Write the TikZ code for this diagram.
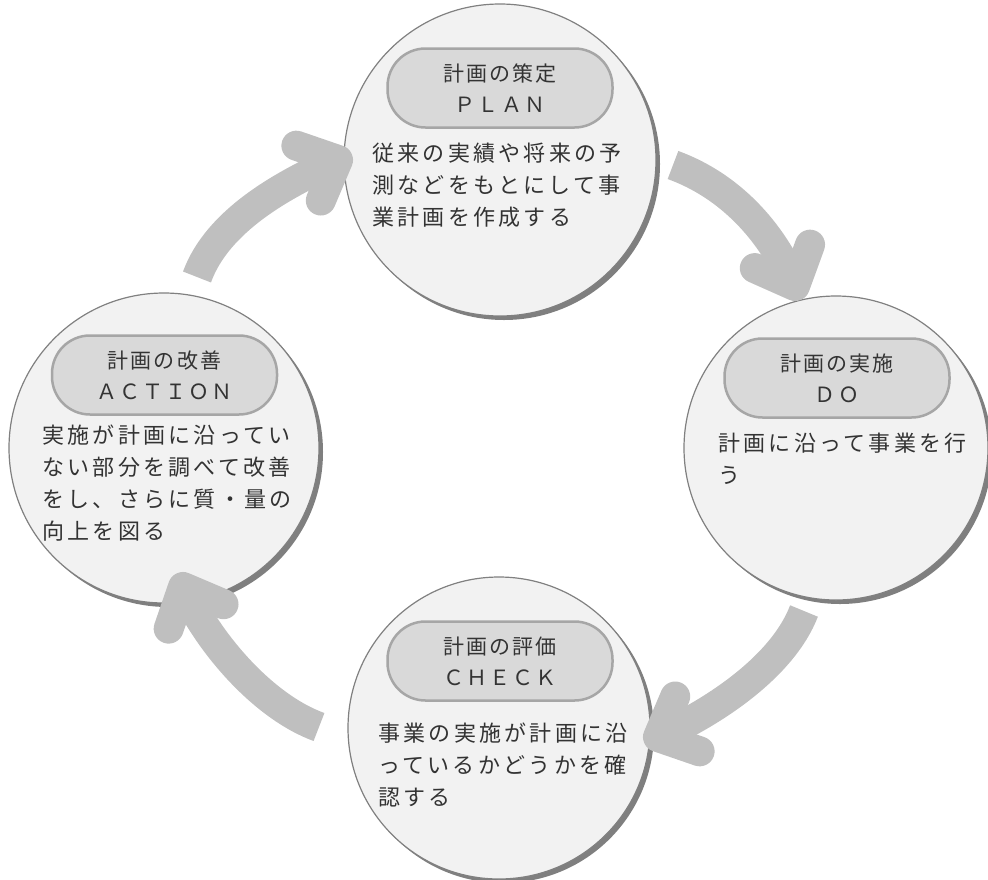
\documentclass[tikz,border=0pt]{standalone}
\usepackage{fontspec}
\usetikzlibrary{shadows}
\newfontfamily\jpbody[LetterSpace=15]{Noto Sans CJK JP}
\newfontfamily\jptitle[LetterSpace=10]{Noto Sans CJK JP}
\definecolor{bubfill}{HTML}{F2F2F2}
\definecolor{bubline}{HTML}{808080}
\definecolor{shadowgray}{HTML}{7F7F7F}
\definecolor{pillfill}{HTML}{D9D9D9}
\definecolor{pillline}{HTML}{A6A6A6}
\definecolor{arrowgray}{HTML}{BFBFBF}
\definecolor{txt}{HTML}{333333}
\tikzset{
  bub/.style={circle, draw=bubline, fill=bubfill, line width=1.2pt, inner sep=0pt,
    general shadow={fill=shadowgray, shadow xshift=4pt, shadow yshift=-4pt}},
  pill/.style={draw=pillline, fill=pillfill, line width=2.5pt, rounded corners=38pt,
    minimum width=225pt, minimum height=79pt, inner sep=0pt, align=center,
    font=\jptitle\fontsize{21}{31}\selectfont, text=txt},
  body/.style={anchor=north west, inner sep=0pt, align=left,
    font=\jpbody\fontsize{22}{32}\selectfont, text=txt},
  arrbody/.style={draw=arrowgray, line width=30pt},
  arrhead/.style={draw=arrowgray, line width=30pt, line cap=round, line join=round}
}
\begin{document}
\begin{tikzpicture}[x=1pt,y=-1pt]
\useasboundingbox (0,0) rectangle (988,879);
% circles
\node[bub, minimum size=312pt] (plan) at (500,160) {};
\node[bub, minimum size=304pt] (do) at (836,448) {};
\node[bub, minimum size=310pt] (act) at (164,448) {};
\node[bub, minimum size=302pt] (chk) at (499,728) {};
% title pills
\node[pill] (planlbl) at (500,88) {計画の策定\\ＰＬＡＮ};
\node[pill] (dolbl) at (837,378) {計画の実施\\ＤＯ};
\node[pill] (actlbl) at (164.5,375) {計画の改善\\ＡＣＴＩＯＮ};
\node[pill] (chklbl) at (500,661) {計画の評価\\ＣＨＥＣＫ};
% body texts
\node[body] (plantxt) at (372,143) {従来の実績や将来の予\\測などをもとにして事\\業計画を作成する};
\node[body] (dotxt) at (718,433) {計画に沿って事業を行\\う};
\node[body] (acttxt) at (42,425) {実施が計画に沿ってい\\ない部分を調べて改善\\をし、さらに質・量の\\向上を図る};
\node[body] (chktxt) at (378,723) {事業の実施が計画に沿\\っているかどうかを確\\認する};
% arrows
\coordinate (a1s) at (673,165); \coordinate (a1e) at (795,286);
\coordinate (a2s) at (804,611); \coordinate (a2e) at (658,737);
\coordinate (a3s) at (319,727); \coordinate (a3e) at (183,587);
\coordinate (a4s) at (197,277); \coordinate (a4e) at (338,160);
\draw[arrbody] (a1s) .. controls (729.4,185.5) and (771.6,230.8) .. (a1e);
\draw[arrhead] ([shift={(204:44)}]a1e) -- (a1e) -- ([shift={(290:44)}]a1e);
\draw[arrbody] (a2s) .. controls (782.5,667) and (712.8,712.6) .. (a2e);
\draw[arrhead] ([shift={(293:44)}]a2e) -- (a2e) -- ([shift={(19:44)}]a2e);
\draw[arrbody] (a3s) .. controls (262.6,706.5) and (207.4,641.8) .. (a3e);
\draw[arrhead] ([shift={(23:44)}]a3e) -- (a3e) -- ([shift={(109:44)}]a3e);
\draw[arrbody] (a4s) .. controls (217.5,220.6) and (283.2,184.4) .. (a4e);
\draw[arrhead] ([shift={(113:44)}]a4e) -- (a4e) -- ([shift={(199:44)}]a4e);
\end{tikzpicture}
\end{document}
